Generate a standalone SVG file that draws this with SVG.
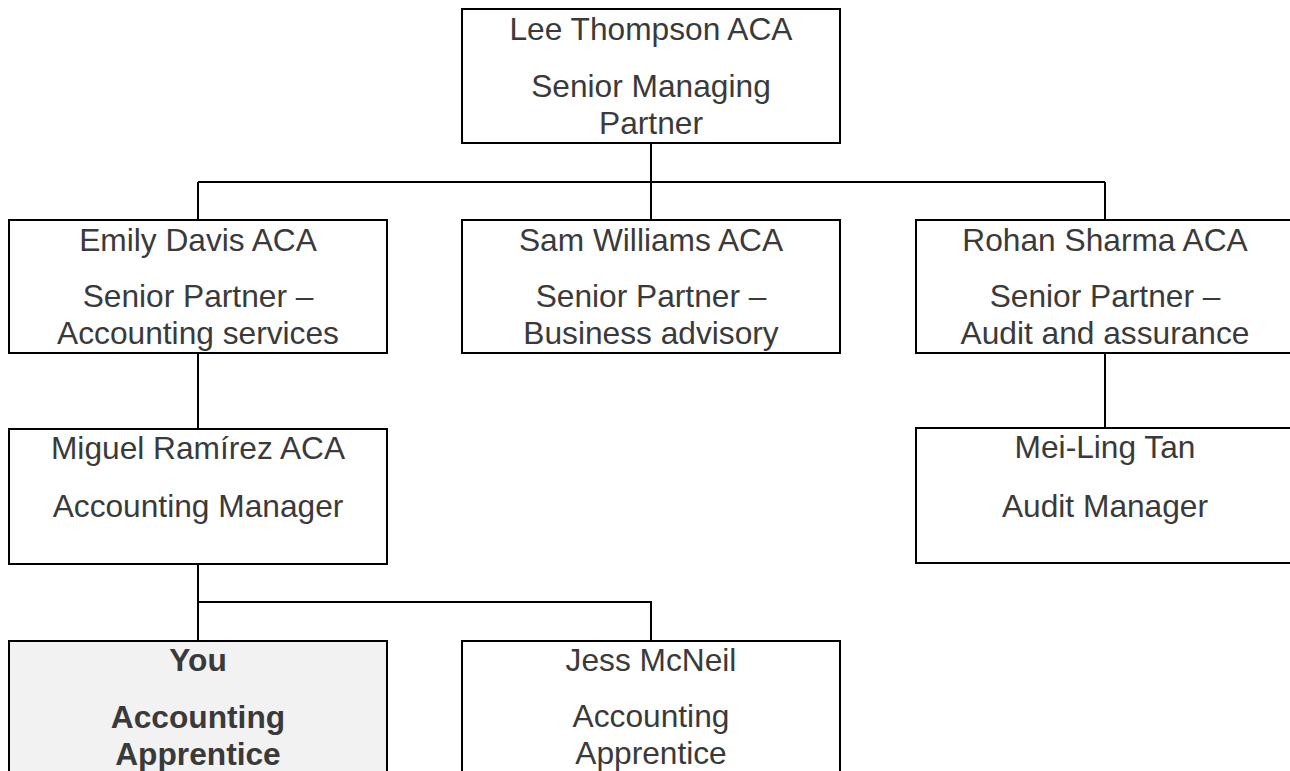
<svg xmlns="http://www.w3.org/2000/svg" width="1290" height="771" viewBox="0 0 1290 771">
  <style>
    .box { fill: #ffffff; stroke: #000000; stroke-width: 2; }
    .me { fill: #f2f2f2; }
    .wire { fill: none; stroke: #000000; stroke-width: 2; }
    text { font-family: "Liberation Sans", Arial, sans-serif; font-size: 31.7px; fill: #3a3a3a; text-anchor: middle; }
    .bold { font-weight: bold; }
  </style>
  <rect width="1290" height="771" fill="#ffffff"/>

  <!-- reporting lines -->
  <g id="connectors">
    <path class="wire" d="M651,143 V182 M198,182 H1105 M198,182 V220 M651,182 V220 M1105,182 V220"/>
    <path class="wire" d="M198,353 V429 M1105,353 V428"/>
    <path class="wire" d="M198,564 V641 M198,602 H651 V641"/>
  </g>

  <g id="lee-thompson">
    <rect class="box" x="462" y="9" width="378" height="134"/>
    <text x="651" y="40">Lee Thompson ACA</text>
    <text x="651" y="96.5">Senior Managing</text>
    <text x="651" y="133.5">Partner</text>
  </g>

  <g id="emily-davis">
    <rect class="box" x="9" y="220" width="378" height="133"/>
    <text x="198" y="251">Emily Davis ACA</text>
    <text x="198" y="307">Senior Partner –</text>
    <text x="198" y="344">Accounting services</text>
  </g>

  <g id="sam-williams">
    <rect class="box" x="462" y="220" width="378" height="133"/>
    <text x="651" y="251">Sam Williams ACA</text>
    <text x="651" y="307">Senior Partner –</text>
    <text x="651" y="344">Business advisory</text>
  </g>

  <g id="rohan-sharma">
    <rect class="box" x="916" y="220" width="378" height="133"/>
    <text x="1105" y="251">Rohan Sharma ACA</text>
    <text x="1105" y="307">Senior Partner –</text>
    <text x="1105" y="344">Audit and assurance</text>
  </g>

  <g id="miguel-ramirez">
    <rect class="box" x="9" y="429" width="378" height="135"/>
    <text x="198" y="459">Miguel Ramírez ACA</text>
    <text x="198" y="517">Accounting Manager</text>
  </g>

  <g id="mei-ling-tan">
    <rect class="box" x="916" y="428" width="378" height="135"/>
    <text x="1105" y="458">Mei-Ling Tan</text>
    <text x="1105" y="517">Audit Manager</text>
  </g>

  <g id="you">
    <rect class="box me" x="9" y="641" width="378" height="150"/>
    <text class="bold" x="198" y="671">You</text>
    <text class="bold" x="198" y="728">Accounting</text>
    <text class="bold" x="198" y="765">Apprentice</text>
  </g>

  <g id="jess-mcneil">
    <rect class="box" x="462" y="641" width="378" height="150"/>
    <text x="651" y="671">Jess McNeil</text>
    <text x="651" y="727">Accounting</text>
    <text x="651" y="764">Apprentice</text>
  </g>
</svg>
